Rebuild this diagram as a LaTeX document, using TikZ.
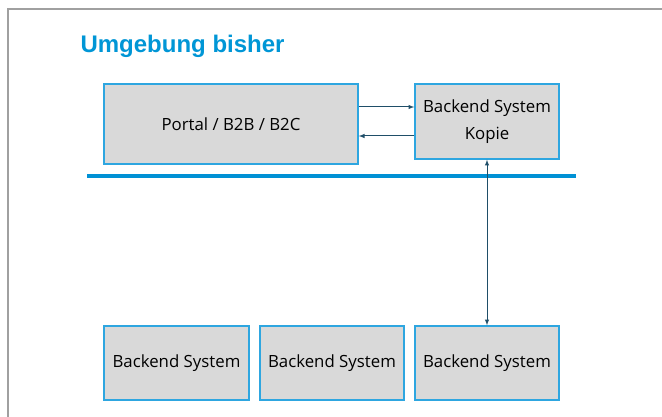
\documentclass[tikz,border=0pt]{standalone}
\usepackage{fontspec}
\setmainfont{Open Sans}
\newfontfamily\titlefont{Liberation Sans}
\usetikzlibrary{arrows}
\definecolor{titleblue}{RGB}{0,150,214}
\definecolor{barblue}{RGB}{0,145,213}
\definecolor{boxline}{RGB}{46,166,224}
\definecolor{boxfill}{RGB}{217,217,217}
\definecolor{arrowcol}{RGB}{31,78,104}
\definecolor{framegray}{RGB}{160,160,160}

\tikzset{
  sysbox/.style={draw=boxline, line width=1.4pt, fill=boxfill, inner sep=0pt,
    align=center, font=\fontsize{16.8}{27}\selectfont},
  arr/.style={draw=arrowcol, line width=1pt, -latex}
}

\begin{document}
\begin{tikzpicture}[x=1pt,y=-1pt]
          \useasboundingbox (0,0) rectangle (662,417);
          \fill[white] (0,0) rectangle (662,417);
          \draw[framegray, line width=1.5pt] (8,430) -- (8,9) -- (680,9);

          \node[anchor=base west, text=titleblue, font=\titlefont\bfseries\fontsize{24}{28}\selectfont] (title) at (77,53) {Umgebung bisher};

          \node[sysbox, minimum width=254pt, minimum height=80pt] (portal) at (231,124) {Portal / B2B / B2C};
          \node[sysbox, minimum width=144pt, minimum height=75pt] (kopie) at (487,121.5) {Backend System\\Kopie};

          \fill[barblue] (87,174) rectangle (576,178);

          \node[sysbox, minimum width=145pt, minimum height=74pt] (bsa) at (176.5,363) {Backend System};
          \node[sysbox, minimum width=144pt, minimum height=74pt] (bsb) at (332,363) {Backend System};
          \node[sysbox, minimum width=144pt, minimum height=74pt] (bsc) at (487,363) {Backend System};

          \draw[arr] ([yshift=14.5pt]kopie.west -| portal.east) -- ([yshift=14.5pt]kopie.west);
          \draw[arr] ([yshift=-14.5pt]kopie.west) -- ([yshift=-14.5pt]kopie.west -| portal.east);
          \draw[arr, latex-latex] (kopie.south) -- (bsc.north);
        \end{tikzpicture}
\end{document}
